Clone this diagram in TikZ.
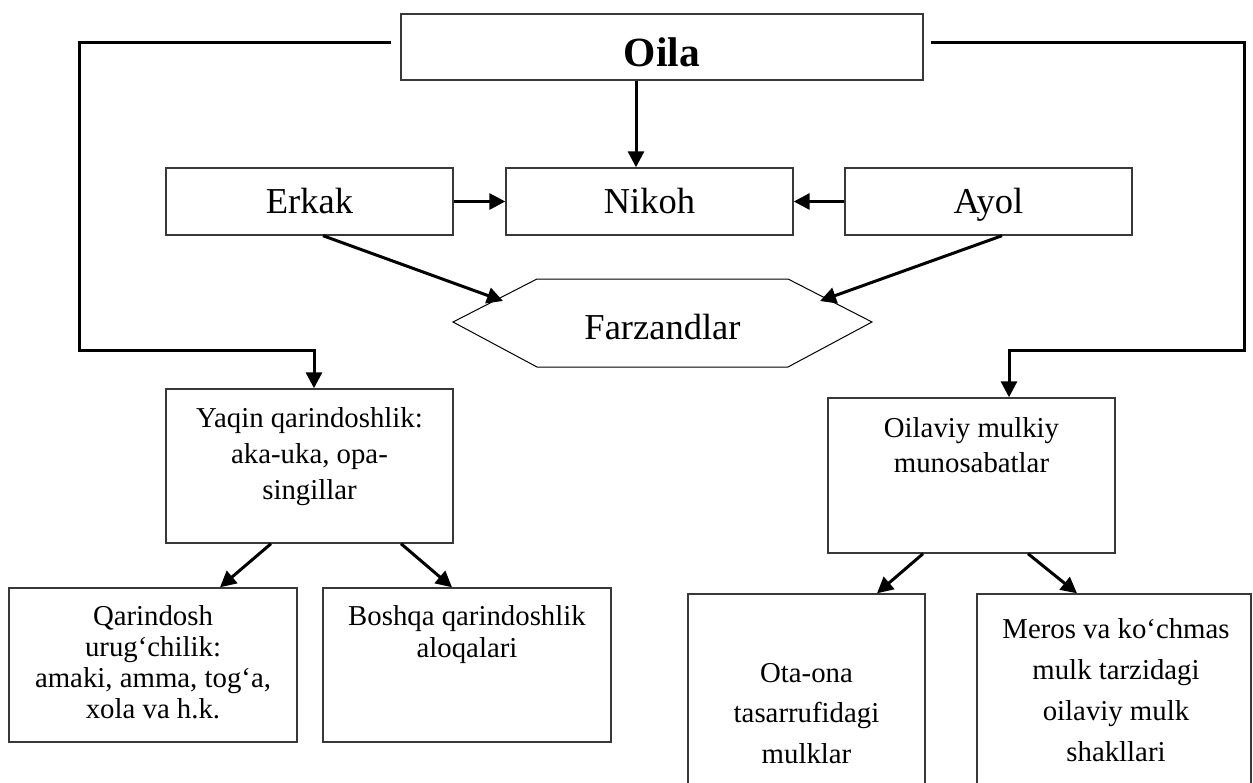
\documentclass[tikz,border=0pt]{standalone}
\usepackage{fontspec}
\setmainfont{Liberation Serif}
\usetikzlibrary{arrows.meta,calc}
\begin{document}
\begin{tikzpicture}[x=1pt,y=-1pt,
  box/.style={draw=black!78, line width=1.4pt, rectangle, inner sep=0pt},
  conn/.style={line width=3pt, draw=black, -{Triangle[length=16pt,width=16pt]}},
  big/.style={font=\fontsize{36.5}{40}\selectfont, text height=24pt, text depth=0pt},
  lbl/.style={align=center, anchor=base, inner sep=0pt},
  hex/.style={draw=black, line width=1pt}]
\clip (0,0) rectangle (1253,782);

% top
\node[box, minimum width=522, minimum height=66] (oila) at (662,47) {};
\node[lbl, font=\bfseries\fontsize{41.5}{45}\selectfont] (oilaT) at (662,66) {Oila};

\node[box, big, minimum width=287, minimum height=67] (erkak) at (309.5,201.5) {Erkak};
\node[box, big, minimum width=287, minimum height=67] (nikoh) at (649.5,201.5) {Nikoh};
\node[box, big, minimum width=287, minimum height=67] (ayol) at (988.5,201.5) {Ayol};

% Farzandlar hexagon
\draw[hex] (453,322) -- (537,279) -- (788,279) -- (872,322) -- (788,367) -- (537,367) -- cycle;
\node[lbl, font=\fontsize{36.5}{40}\selectfont] (farz) at (662.5,339) {Farzandlar};
\coordinate (fzL) at (503,301);
\coordinate (fzR) at (820,301);

% second level (anchor base = last line baseline)
\node[box, minimum width=287, minimum height=154] (yaqin) at (309.5,466) {};
\node[lbl, font=\fontsize{28.8}{36}\selectfont] (yaqinT) at (309.5,499)
  {Yaqin qarindoshlik:\\aka-uka, opa-\\singillar};
\node[box, minimum width=287, minimum height=155] (mulkiy) at (971.5,475.5) {};
\node[lbl, font=\fontsize{28.8}{35}\selectfont] (mulkiyT) at (971.5,472)
  {Oilaviy mulkiy\\munosabatlar};

% bottom level
\node[box, minimum width=288, minimum height=154] (qarin) at (153,665) {};
\node[lbl, font=\fontsize{28.8}{31.2}\selectfont] (qarinT) at (153,718.6)
  {Qarindosh\\urug‘chilik:\\amaki, amma, tog‘a,\\xola va h.k.};
\node[box, minimum width=288, minimum height=154] (boshqa) at (467,665) {};
\node[lbl, font=\fontsize{28.8}{32}\selectfont] (boshqaT) at (467,657)
  {Boshqa qarindoshlik\\aloqalari};
\node[box, minimum width=237, minimum height=206] (ota) at (806.5,697) {};
\node[lbl, font=\fontsize{28.8}{40.5}\selectfont] (otaT) at (806.5,763)
  {Ota-ona\\tasarrufidagi\\mulklar};
\node[box, minimum width=274, minimum height=206] (meros) at (1114,697) {};
\node[lbl, font=\fontsize{28.8}{41}\selectfont] (merosT) at (1116,761)
  {Meros va ko‘chmas\\mulk tarzidagi\\oilaviy mulk\\shakllari};

% connectors
\coordinate (lstart) at ($(oila.west)+(-9,-5)$);
\coordinate (lcorner) at (79,350);
\draw[conn] (lstart) -| (lcorner) -| ($(yaqin.north)+(4.5,0)$);
\coordinate (rstart) at ($(oila.east)+(7,-5)$);
\coordinate (rcorner) at (1244,350);
\draw[conn] (rstart) -| (rcorner) -| ($(mulkiy.north)+(37.5,0)$);

\draw[conn] ($(oila.south)+(-26,0)$) -- ($(nikoh.north)+(-13.5,0)$);
\draw[conn] (erkak.east) -- (nikoh.west);
\draw[conn] (ayol.west) -- (nikoh.east);
\draw[conn] ($(erkak.south)+(13.5,0)$) -- (fzL);
\draw[conn] ($(ayol.south)+(13.5,0)$) -- (fzR);

\draw[conn] ($(yaqin.south)+(-38.5,0)$) -- ($(qarin.north)+(67,0)$);
\draw[conn] ($(yaqin.south)+(91.5,0)$) -- ($(boshqa.north)+(-15,0)$);
\draw[conn] ($(mulkiy.south)+(-48.5,0)$) -- ($(ota.north)+(70.5,0)$);
\draw[conn] ($(mulkiy.south)+(56.5,0)$) -- ($(meros.north)+(-37,0)$);
\end{tikzpicture}
\end{document}
